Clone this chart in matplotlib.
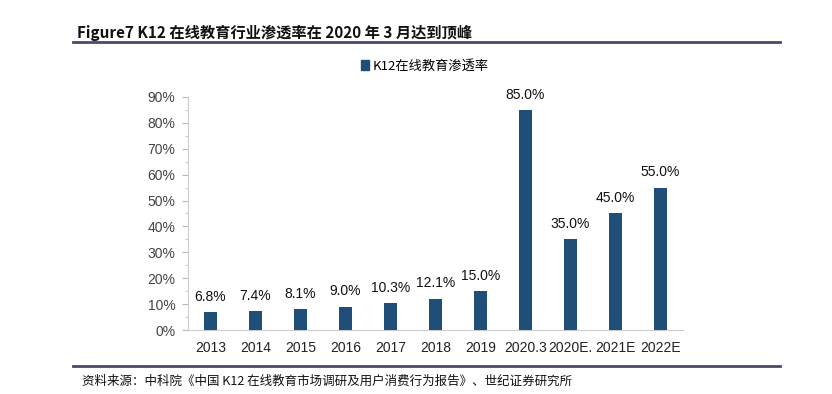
import matplotlib
matplotlib.use("Agg")
import matplotlib.pyplot as plt
from matplotlib.ticker import MultipleLocator, FuncFormatter
from matplotlib.lines import Line2D

plt.rcParams['font.family'] = ['Noto Sans CJK SC', 'DejaVu Sans']

categories = ["2013", "2014", "2015", "2016", "2017", "2018", "2019",
              "2020.3", "2020E.", "2021E", "2022E"]
values = [6.8, 7.4, 8.1, 9.0, 10.3, 12.1, 15.0, 85.0, 35.0, 45.0, 55.0]
labels = ["6.8%", "7.4%", "8.1%", "9.0%", "10.3%", "12.1%", "15.0%",
          "85.0%", "35.0%", "45.0%", "55.0%"]
series_name = "K12在线教育渗透率"
title = "Figure7 K12 在线教育行业渗透率在 2020 年 3 月达到顶峰"
source = "资料来源：中科院《中国 K12 在线教育市场调研及用户消费行为报告》、世纪证券研究所"

W, H = 832, 394
fig = plt.figure(figsize=(W / 100, H / 100), dpi=100)
bar_color = "#1f4e79"
arial = ['Liberation Sans', 'DejaVu Sans']

ax = fig.add_axes([188 / W, 1 - 330 / H, (683 - 188) / W, (330 - 97) / H])
x = list(range(len(categories)))
ax.bar(x, values, width=0.3, color=bar_color, label=series_name, zorder=3)
for xi, v, lab in zip(x, values, labels):
    ax.annotate(lab, (xi, v), xytext=(0, 6), textcoords="offset points",
                ha="center", va="bottom", fontsize=10, color="#111111",
                family=arial)

ax.set_xlim(-0.5, len(categories) - 0.5)
ax.set_ylim(0, 90)
ax.yaxis.set_major_locator(MultipleLocator(10))
ax.yaxis.set_minor_locator(MultipleLocator(5))
ax.yaxis.set_major_formatter(FuncFormatter(lambda v, p: f"{v:.0f}%"))
ax.set_xticks(x)
ax.set_xticklabels(categories)
for t in ax.get_xticklabels() + ax.get_yticklabels():
    t.set_family(arial)
ax.tick_params(axis="x", length=0, pad=8, labelsize=10, labelcolor="#222222")
ax.tick_params(axis="y", which="major", length=4, color="#bbbbbb",
               labelsize=10, labelcolor="#444444", pad=5)
ax.tick_params(axis="y", which="minor", length=2, color="#bbbbbb")
for s in ["top", "right"]:
    ax.spines[s].set_visible(False)
ax.spines["left"].set_color("#cccccc")
ax.spines["bottom"].set_color("#cccccc")

fig.legend(handles=[plt.Rectangle((0, 0), 1, 1, color=bar_color)],
           labels=[series_name], loc="center",
           bbox_to_anchor=(425 / W, 1 - 66 / H), frameon=False,
           fontsize=9.5, handlelength=0.6, handleheight=0.8,
           handletextpad=0.3)

fig.text(77 / W, 1 - 33 / H, title, fontsize=11, fontweight="bold",
         ha="left", va="center", color="#111111")
fig.add_artist(Line2D([73 / W, 780 / W], [1 - 42 / H, 1 - 42 / H],
                      color="#4a4a68", linewidth=2))
fig.add_artist(Line2D([73 / W, 780 / W], [1 - 366 / H, 1 - 366 / H],
                      color="#4a4a68", linewidth=2))
fig.text(82 / W, 1 - 381 / H, source, fontsize=9, ha="left", va="center",
         color="#111111")

fig.savefig("out.png", dpi=100)
